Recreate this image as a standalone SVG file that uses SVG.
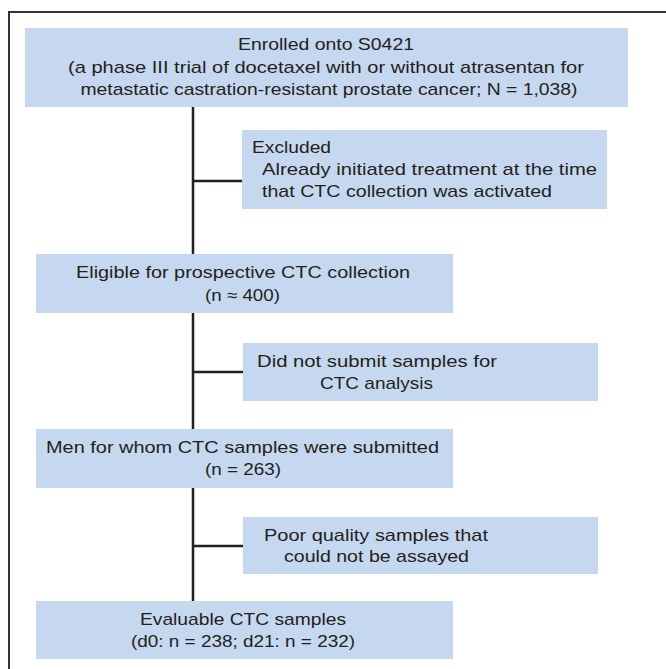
<svg xmlns="http://www.w3.org/2000/svg" width="666" height="669" viewBox="0 0 666 669">
  <style>
    .box { fill: #c6d8ef; }
    .t { font-family: "Liberation Sans", Arial, sans-serif; font-size: 17px; fill: #231f20; }
    .c { text-anchor: middle; }
    .ln { stroke: #231f20; stroke-width: 2.5; fill: none; }
    .frame { stroke: #333333; stroke-width: 2; fill: none; }
  </style>
  <rect x="0" y="0" width="666" height="669" fill="#ffffff"/>
  <path class="frame" d="M9,669 V12 H666"/>

  <g id="connectors">
    <path class="ln" d="M193,107 V601"/>
    <path class="ln" d="M193,181 H242"/>
    <path class="ln" d="M193,372 H243"/>
    <path class="ln" d="M193,546 H243"/>
  </g>

  <g id="enrolled">
    <rect class="box" x="25" y="28" width="603" height="79"/>
    <text class="t c" x="326" y="50" textLength="176" lengthAdjust="spacingAndGlyphs">Enrolled onto S0421</text>
    <text class="t c" x="326" y="72.5" textLength="516" lengthAdjust="spacingAndGlyphs">(a phase III trial of docetaxel with or without atrasentan for</text>
    <text class="t c" x="329" y="95" textLength="497" lengthAdjust="spacingAndGlyphs">metastatic castration-resistant prostate cancer; N = 1,038)</text>
  </g>

  <g id="excluded">
    <rect class="box" x="242" y="130" width="365" height="79"/>
    <text class="t" x="252" y="153" textLength="79" lengthAdjust="spacingAndGlyphs">Excluded</text>
    <text class="t" x="262" y="175" textLength="335" lengthAdjust="spacingAndGlyphs">Already initiated treatment at the time</text>
    <text class="t" x="262" y="197" textLength="290" lengthAdjust="spacingAndGlyphs">that CTC collection was activated</text>
  </g>

  <g id="eligible">
    <rect class="box" x="36" y="254" width="417" height="59"/>
    <text class="t c" x="243" y="278" textLength="334" lengthAdjust="spacingAndGlyphs">Eligible for prospective CTC collection</text>
    <text class="t c" x="242.5" y="301" textLength="75" lengthAdjust="spacingAndGlyphs">(n ≈ 400)</text>
  </g>

  <g id="not-submitted">
    <rect class="box" x="243" y="343" width="355" height="58"/>
    <text class="t c" x="377" y="367" textLength="240" lengthAdjust="spacingAndGlyphs">Did not submit samples for</text>
    <text class="t c" x="376.5" y="389" textLength="113" lengthAdjust="spacingAndGlyphs">CTC analysis</text>
  </g>

  <g id="submitted">
    <rect class="box" x="36" y="429" width="417" height="59"/>
    <text class="t c" x="242.5" y="453" textLength="393" lengthAdjust="spacingAndGlyphs">Men for whom CTC samples were submitted</text>
    <text class="t c" x="243" y="475" textLength="76" lengthAdjust="spacingAndGlyphs">(n = 263)</text>
  </g>

  <g id="poor-quality">
    <rect class="box" x="243" y="517" width="355" height="57"/>
    <text class="t c" x="376" y="541" textLength="224" lengthAdjust="spacingAndGlyphs">Poor quality samples that</text>
    <text class="t c" x="376.5" y="562" textLength="185" lengthAdjust="spacingAndGlyphs">could not be assayed</text>
  </g>

  <g id="evaluable">
    <rect class="box" x="36" y="601" width="417" height="58"/>
    <text class="t c" x="243" y="625" textLength="206" lengthAdjust="spacingAndGlyphs">Evaluable CTC samples</text>
    <text class="t c" x="243" y="647" textLength="224" lengthAdjust="spacingAndGlyphs">(d0: n = 238; d21: n = 232)</text>
  </g>
</svg>
